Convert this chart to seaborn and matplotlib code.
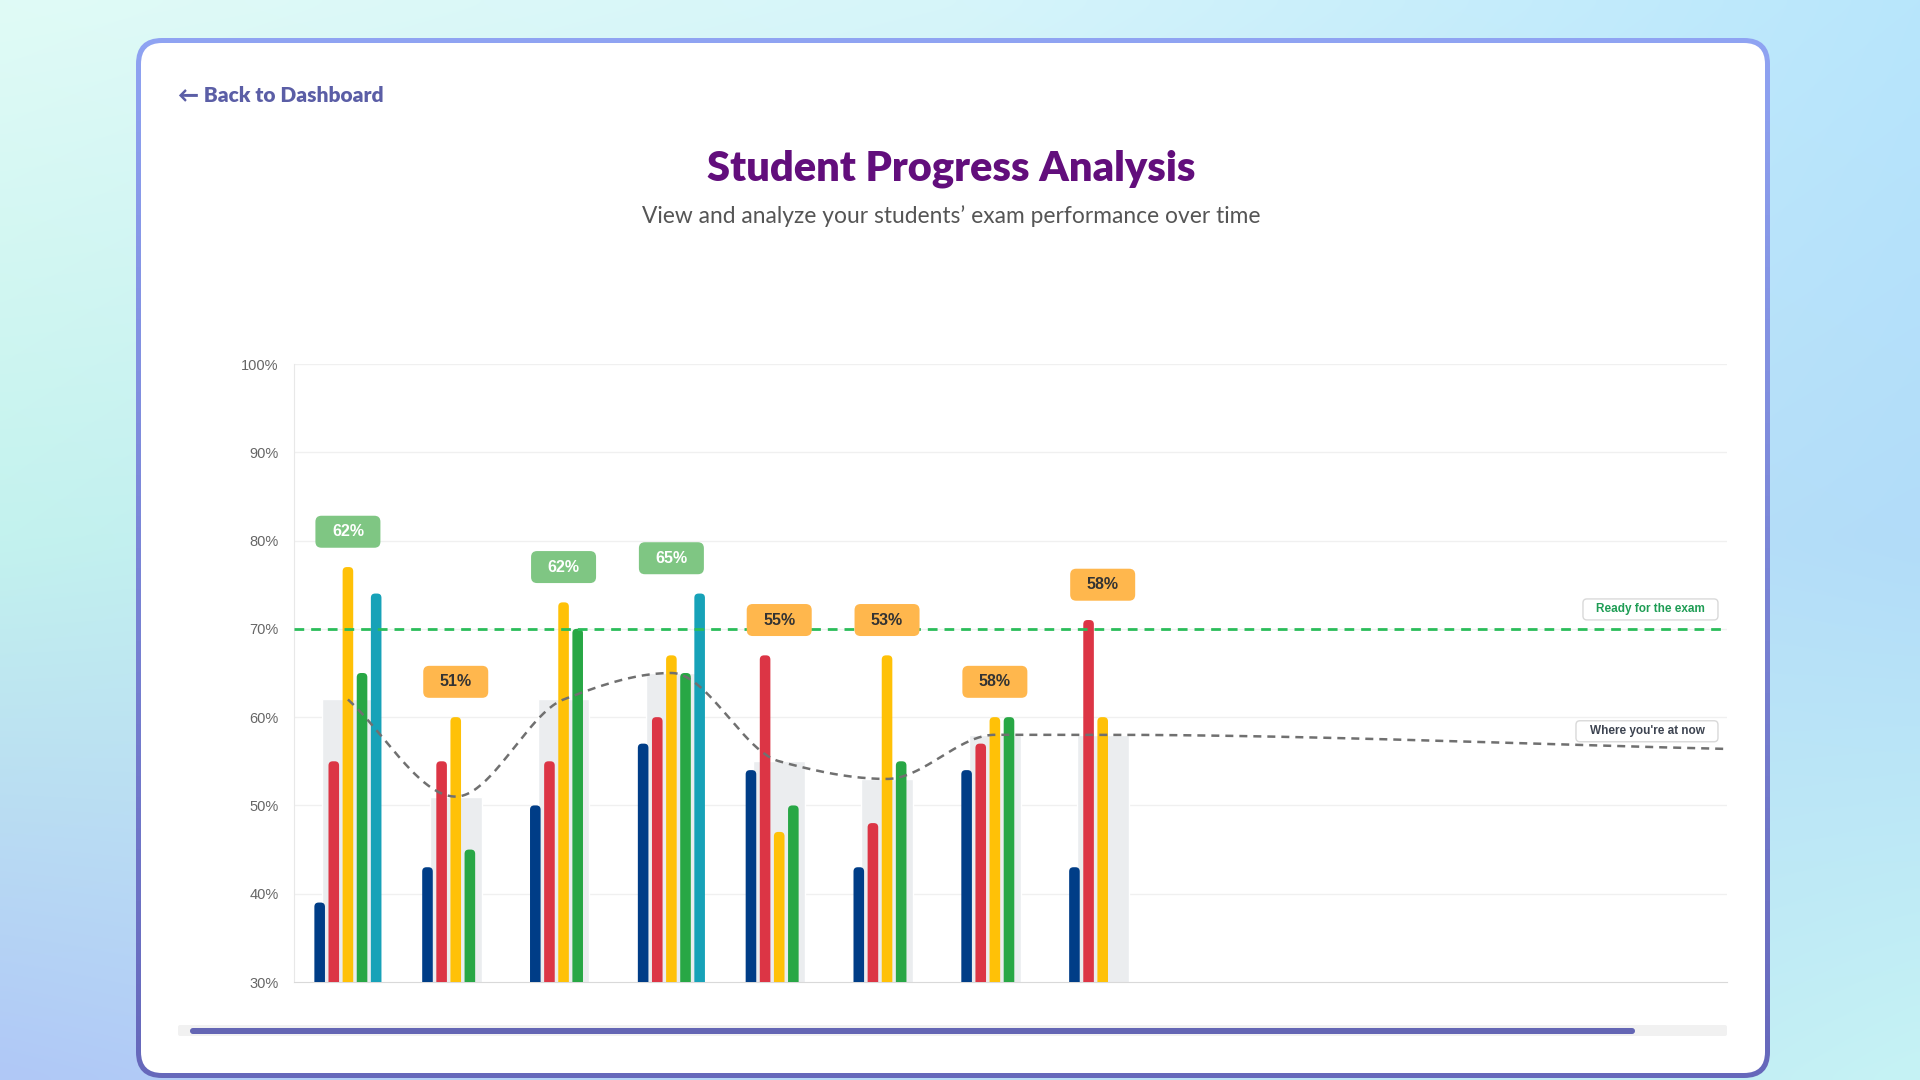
import numpy as np
import pandas as pd
import matplotlib
matplotlib.use("Agg")
import matplotlib.pyplot as plt
import seaborn as sns
from matplotlib.patches import FancyBboxPatch
from matplotlib.transforms import Affine2D, ScaledTranslation, offset_copy

# Values (scores in %)
exams = ["Exam 1", "Exam 2", "Exam 3", "Exam 4", "Exam 5", "Exam 6", "Exam 7", "Exam 8"]
series = ["S1", "S2", "S3", "S4", "S5"]
s1 = [39, 43, 50, 57, 54, 43, 54, 43]
s2 = [55, 55, 55, 60, 67, 48, 57, 71]
s3 = [77, 60, 73, 67, 47, 67, 60, 60]
s4 = [65, 45, 70, 65, 50, 55, 60, np.nan]
s5 = [74, np.nan, np.nan, 74, np.nan, np.nan, np.nan, np.nan]
averages = [62, 51, 62, 65, 55, 53, 58, 58]
ready_level = 70
now_level = 56.4

bar_colors = ["#003d87", "#dc3545", "#ffc107", "#28a745", "#17a2b8"]

rows = []
for name, vals in zip(series, [s1, s2, s3, s4, s5]):
    for ex, v in zip(exams, vals):
        rows.append((ex, name, v))
df = pd.DataFrame(rows, columns=["exam", "series", "score"]).dropna()

sns.set_style("white")
plt.rcParams['font.family'] = ['Liberation Sans', 'DejaVu Sans']

W, H = 1920, 1080
fig = plt.figure(figsize=(19.2, 10.8), dpi=100)


def hexrgb(h):
    return np.array([int(h[i:i + 2], 16) for i in (1, 3, 5)]) / 255


# page background gradient
grid = np.array([[hexrgb(c) for c in row] for row in [
    ["#e0fbf6", "#d6f5fa", "#b8e6fc"],
    ["#c3f2ee", "#c0e6f6", "#b2dcf9"],
    ["#b0c8f7", "#b8dcf6", "#c6f3f4"]]])
xx = np.linspace(0, 2, 192)
yy = np.linspace(0, 2, 108)
tmp = np.stack([np.stack([np.interp(xx, [0, 1, 2], grid[r, :, c]) for c in range(3)], -1) for r in range(3)])
img = np.zeros((108, 192, 3))
for j in range(192):
    for c in range(3):
        img[:, j, c] = np.interp(yy, [0, 1, 2], tmp[:, j, c])

bg = fig.add_axes([0, 0, 1, 1], zorder=0)
bg.imshow(img, extent=[0, W, H, 0], aspect='auto', interpolation='bicubic', zorder=0)

# card with gradient border
outer = FancyBboxPatch((136, 38), 1634, 1040, boxstyle="round,pad=0,rounding_size=26",
                       fc='none', ec='none')
bg.add_patch(outer)
border = np.linspace(0, 1, 100)[:, None, None] * (hexrgb("#6668bb") - hexrgb("#8fa3f2")) + hexrgb("#8fa3f2")
border = np.repeat(border, 2, axis=1)
bim = bg.imshow(border, extent=[136, 1770, 1078, 38], aspect='auto', zorder=1)
bim.set_clip_path(outer)
bg.add_patch(FancyBboxPatch((141, 43), 1624, 1030, boxstyle="round,pad=0,rounding_size=21",
                            fc='white', ec='none', zorder=2))

# scrollbar
bg.add_patch(FancyBboxPatch((178, 1025), 1549, 11, boxstyle="round,pad=0,rounding_size=2",
                            fc='#f1f1f1', ec='none', zorder=3))
bg.add_patch(FancyBboxPatch((190, 1028), 1445, 6, boxstyle="round,pad=0,rounding_size=3",
                            fc='#6466b4', ec='none', zorder=4))

head_font = ['Lato', 'DejaVu Sans']
bg.text(178, 96, "← Back to Dashboard", fontsize=15, fontweight='heavy', color='#5b5ea6',
        ha='left', va='center', family=head_font, zorder=5)
bg.text(951, 169, "Student Progress Analysis", fontsize=30, fontweight='heavy', color='#620e7c',
        ha='center', va='center', family=head_font, zorder=5)
bg.text(951, 216, "View and analyze your students’ exam performance over time", fontsize=16.4,
        color='#555555', ha='center', va='center', family=head_font, zorder=5)
bg.set_xlim(0, W)
bg.set_ylim(H, 0)
bg.axis('off')

# chart
x_right = 12.79
ax = fig.add_axes([294 / W, (H - 982) / H, (1727 - 294) / W, (982 - 364) / H], zorder=1)
ax.patch.set_alpha(0)

sns.barplot(x=exams, y=averages, order=exams, color="#ebedef", width=0.48, saturation=1,
            errorbar=None, ax=ax, zorder=1)
n_bg = len(ax.patches)
sns.barplot(data=df, x="exam", y="score", hue="series", order=exams, hue_order=series,
            palette=dict(zip(series, bar_colors)), width=0.655, gap=0.25, saturation=1,
            errorbar=None, legend=False, ax=ax, zorder=3)

# give the coloured bars rounded tops
for rect in list(ax.patches)[n_bg:]:
    x0, y0 = rect.get_x(), rect.get_y()
    w, h = rect.get_width(), rect.get_height()
    if h <= 0:
        rect.remove()
        continue
    rb = FancyBboxPatch((x0, y0), w, h, boxstyle=f"round,pad=0,rounding_size={w * 0.4}",
                        mutation_aspect=12.2, fc=rect.get_facecolor(), ec='none', zorder=3)
    rect.remove()
    ax.add_patch(rb)

# ready line
ax.axhline(ready_level, color="#2bbd5a", lw=2, dashes=(3.5, 2.5), zorder=4)


# smoothed trend through the averages (monotone cubic for drawing only)
def monotone_curve(xs, ys, n=600):
    xs = np.asarray(xs, float)
    ys = np.asarray(ys, float)
    h = np.diff(xs)
    d = np.diff(ys) / h
    m = np.zeros_like(xs)
    m[0], m[-1] = d[0], d[-1]
    for k in range(1, len(xs) - 1):
        if d[k - 1] * d[k] <= 0:
            m[k] = 0
        else:
            w1 = 2 * h[k] + h[k - 1]
            w2 = h[k] + 2 * h[k - 1]
            m[k] = (w1 + w2) / (w1 / d[k - 1] + w2 / d[k])
    xq = np.linspace(xs[0], xs[-1], n)
    idx = np.clip(np.searchsorted(xs, xq) - 1, 0, len(xs) - 2)
    t = (xq - xs[idx]) / h[idx]
    h00 = 2 * t ** 3 - 3 * t ** 2 + 1
    h10 = t ** 3 - 2 * t ** 2 + t
    h01 = -2 * t ** 3 + 3 * t ** 2
    h11 = t ** 3 - t ** 2
    yq = h00 * ys[idx] + h10 * h[idx] * m[idx] + h01 * ys[idx + 1] + h11 * h[idx] * m[idx + 1]
    return xq, yq


tx = list(range(len(exams))) + [x_right]
ty = averages + [now_level]
cx, cy = monotone_curve(tx, ty)
ax.plot(cx, cy, color="#707070", lw=1.8, dashes=(3.2, 2.4), zorder=5, clip_on=False)


def pill(x, y, w, h, r, fc, ec, base, dx=0):
    tr = Affine2D().translate(dx, 0) + ScaledTranslation(x, y, base)
    p = FancyBboxPatch((-w / 2, -h / 2), w, h, boxstyle=f"round,pad=0,rounding_size={r}",
                       transform=tr, fc=fc, ec=ec, lw=1, zorder=6, clip_on=False)
    ax.add_patch(p)


# average labels above each group
maxes = [np.nanmax(v) for v in zip(s1, s2, s3, s4, s5)]
for i, (a, mx) in enumerate(zip(averages, maxes)):
    good = a >= 60
    pill(i, mx + 4, 65, 32, 6, "#7fc683" if good else "#ffb74d", 'none', ax.transData)
    ax.text(i, mx + 4, f"{a}%", ha='center', va='center', fontsize=11.5, fontweight='bold',
            color='white' if good else '#333333', zorder=7)

# right side labels
yax = ax.get_yaxis_transform()
for txt, yv, w, col in [("Ready for the exam", 72.2, 135, "#1f9d55"),
                        ("Where you're at now", 58.4, 142, "#3d4451")]:
    pill(0.9937, yv, w, 21, 4, 'white', '#d9d9d9', yax, dx=-w / 2)
    ax.text(0.9937, yv, txt, transform=offset_copy(yax, x=-w / 2, y=0, units='dots'),
            ha='center', va='center', fontsize=8.5, fontweight='bold', color=col, zorder=7)

ax.set_xlim(-0.5, x_right)
ax.set_ylim(30, 100)
ax.set_yticks(range(30, 101, 10))
ax.set_yticklabels([f"{v}%" for v in range(30, 101, 10)])
ax.set_xticks([])
ax.set_xlabel("")
ax.set_ylabel("")
for v in range(40, 101, 10):
    ax.axhline(v, color="#f0f0f0", lw=1, zorder=0)
ax.tick_params(axis='y', length=6, color="#eeeeee", pad=5, labelsize=10.5, labelcolor="#666666")
for s in ["top", "right"]:
    ax.spines[s].set_visible(False)
ax.spines["left"].set_color("#e8e8e8")
ax.spines["bottom"].set_color("#d9d9d9")

fig.savefig("out.png", dpi=100)
